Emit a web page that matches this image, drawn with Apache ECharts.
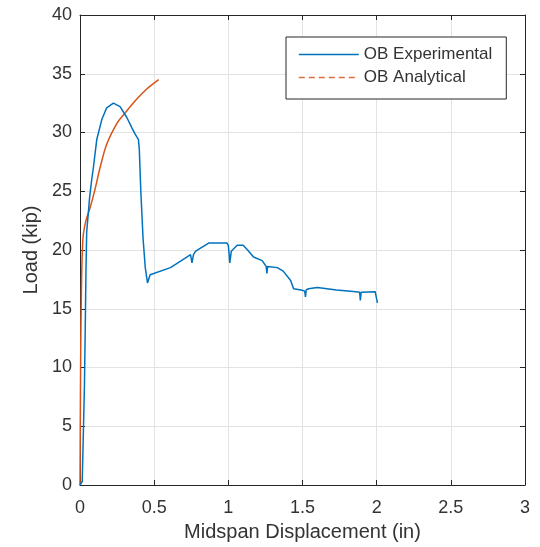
<!DOCTYPE html>
<html>
<head>
<meta charset="utf-8">
<script src="https://cdn.jsdelivr.net/npm/echarts@6/dist/echarts.min.js"></script>
<style>
  html, body { margin: 0; padding: 0; background: #ffffff; }
  #chart { width: 540px; height: 547px; }
</style>
</head>
<body>
<div id="chart"></div>
<script>
// Midspan displacement (in) and load (kip) for the OB beam test
const expDisp = [0, 0.015, 0.02, 0.03, 0.035, 0.04, 0.045, 0.055, 0.065, 0.079, 0.09, 0.113, 0.147, 0.18, 0.225, 0.27, 0.315, 0.35, 0.37, 0.394, 0.40, 0.41, 0.425, 0.44, 0.455, 0.473, 0.61, 0.72, 0.745, 0.755, 0.765, 0.78, 0.87, 0.99, 1.0, 1.01, 1.02, 1.036, 1.06, 1.10, 1.13, 1.17, 1.228, 1.255, 1.26, 1.265, 1.27, 1.33, 1.37, 1.42, 1.44, 1.49, 1.515, 1.52, 1.525, 1.54, 1.60, 1.73, 1.86, 1.885, 1.89, 1.895, 1.99, 2.0, 2.005];
const expLoad = [0, 0.3, 3, 8.5, 13, 18, 21.5, 23, 24.5, 26, 27, 29.4, 31.1, 32.1, 32.5, 32.2, 31.3, 30.4, 29.9, 29.4, 28.5, 25, 21, 18.5, 17.2, 17.9, 18.5, 19.4, 19.6, 18.9, 19.6, 19.9, 20.6, 20.6, 20.4, 18.9, 19.9, 20.1, 20.4, 20.4, 20.0, 19.4, 19.1, 18.6, 18.0, 18.6, 18.7, 18.5, 18.2, 17.4, 16.7, 16.6, 16.5, 16.0, 16.6, 16.7, 16.8, 16.6, 16.45, 16.4, 15.7, 16.4, 16.45, 16.3, 15.5];

const anaDisp = [0, 0.004, 0.01, 0.02, 0.04, 0.068, 0.10, 0.135, 0.18, 0.25, 0.30, 0.38, 0.45, 0.53];
const anaLoad = [0, 10, 17, 21, 22.5, 23.6, 25.1, 27.0, 29.0, 30.8, 31.6, 32.8, 33.7, 34.5];

const seriesNames = ['OB Experimental', 'OB Analytical'];
const xTicks = { min: 0, max: 3, interval: 0.5 };
const yTicks = { min: 0, max: 40, interval: 5 };

const pairs = (xs, ys) => xs.map((x, i) => [x, ys[i]]);

const blue = '#0072BD';
const orange = '#D95319';
const axisColor = '#262626';
const textColor = '#333333';
const gridColor = '#e3e3e3';
const font = '"Liberation Sans", Arial, sans-serif';

const chart = echarts.init(document.getElementById('chart'), null, { renderer: 'canvas' });

const baseX = {
  type: 'value', min: xTicks.min, max: xTicks.max, interval: xTicks.interval,
  axisLine: { show: true, onZero: false, lineStyle: { color: axisColor, width: 1 } },
  axisTick: { show: true, inside: true, length: 5, lineStyle: { color: axisColor } }
};
const baseY = {
  type: 'value', min: yTicks.min, max: yTicks.max, interval: yTicks.interval,
  axisLine: { show: true, onZero: false, lineStyle: { color: axisColor, width: 1 } },
  axisTick: { show: true, inside: true, length: 5, lineStyle: { color: axisColor } }
};

chart.setOption({
  animation: false,
  backgroundColor: '#ffffff',
  textStyle: { fontFamily: font },
  grid: { left: 80, right: 15, top: 15, bottom: 62, containLabel: false },
  legend: {
    left: 286, top: 37,
    orient: 'vertical',
    backgroundColor: '#ffffff',
    borderColor: axisColor, borderWidth: 1,
    padding: [9, 14, 13, 12],
    itemWidth: 60, itemHeight: 14, itemGap: 6,
    // line-only legend keys (no marker dot)
    itemStyle: { color: 'rgba(0,0,0,0)', borderWidth: 0, opacity: 0 },
    textStyle: { fontFamily: font, fontSize: 17, color: textColor },
    data: [
      { name: seriesNames[0], lineStyle: { color: blue, width: 1.5 } },
      { name: seriesNames[1], lineStyle: { color: orange, type: [6, 4], width: 1.6, opacity: 0.85 } }
    ]
  },
  xAxis: [
    Object.assign({}, baseX, {
      position: 'bottom',
      name: 'Midspan Displacement (in)', nameLocation: 'middle', nameGap: 37,
      nameTextStyle: { fontFamily: font, fontSize: 20, color: textColor },
      axisLabel: { fontFamily: font, fontSize: 18, color: textColor, margin: 14 },
      splitLine: { show: true, lineStyle: { color: gridColor, width: 1 } }
    }),
    Object.assign({}, baseX, {
      position: 'top',
      axisLabel: { show: false },
      splitLine: { show: false }
    })
  ],
  yAxis: [
    Object.assign({}, baseY, {
      position: 'left',
      name: 'Load (kip)', nameLocation: 'middle', nameGap: 38,
      nameTextStyle: { fontFamily: font, fontSize: 20, color: textColor },
      axisLabel: { fontFamily: font, fontSize: 18, color: textColor, margin: 8 },
      splitLine: { show: true, lineStyle: { color: gridColor, width: 1 } }
    }),
    Object.assign({}, baseY, {
      position: 'right',
      axisLabel: { show: false },
      splitLine: { show: false }
    })
  ],
  series: [
    {
      name: seriesNames[0], type: 'line', data: pairs(expDisp, expLoad),
      xAxisIndex: 0, yAxisIndex: 0,
      symbol: 'none', showSymbol: false,
      lineStyle: { color: blue, width: 1.5 },
      itemStyle: { color: blue },
      z: 3
    },
    {
      name: seriesNames[1], type: 'line', data: pairs(anaDisp, anaLoad), smooth: 0.3,
      xAxisIndex: 0, yAxisIndex: 0,
      symbol: 'none', showSymbol: false,
      lineStyle: { color: orange, width: 1.5 },
      itemStyle: { color: orange },
      z: 2
    }
  ]
});
</script>
</body>
</html>
